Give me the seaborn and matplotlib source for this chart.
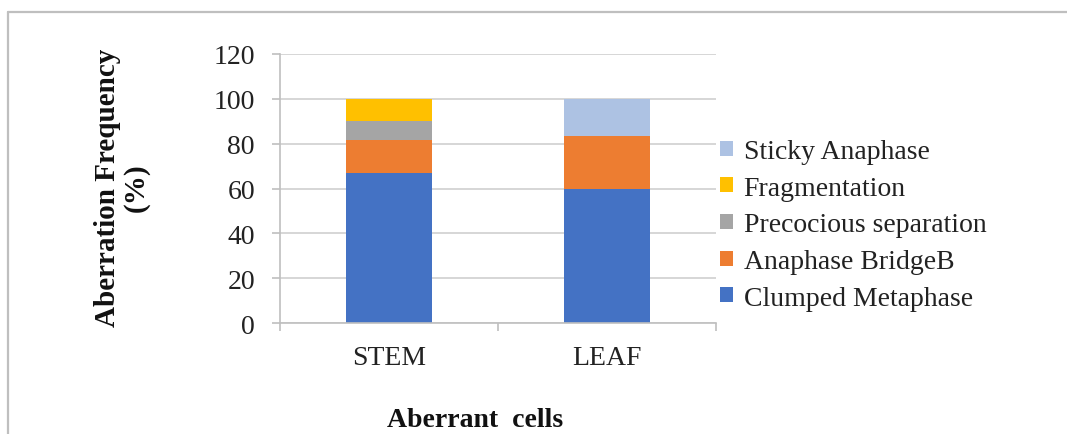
import numpy as np
import pandas as pd
import seaborn as sns
import matplotlib
matplotlib.use("Agg")
import matplotlib.pyplot as plt
from matplotlib.patches import Patch
from matplotlib.lines import Line2D
from matplotlib.font_manager import FontProperties

# Aberration frequencies (%) per tissue, one list per aberration type
categories = ["STEM", "LEAF"]
clumped_metaphase = [66.7, 60.0]
anaphase_bridge = [15.0, 23.3]
precocious_separation = [8.3, 0.0]
fragmentation = [10.0, 0.0]
sticky_anaphase = [0.0, 16.7]

series_names = ["Clumped Metaphase", "Anaphase BridgeB", "Precocious separation",
                "Fragmentation", "Sticky Anaphase"]
series_values = [clumped_metaphase, anaphase_bridge, precocious_separation,
                 fragmentation, sticky_anaphase]
colors = ["#4472C4", "#ED7D31", "#A5A5A5", "#FFC000", "#ADC2E3"]
y_ticks = [0, 20, 40, 60, 80, 100, 120]

sns.set_style("white")
plt.rcParams["font.family"] = ["Liberation Serif", "DejaVu Serif"]

# long-form table with cumulative tops for stacking
rows = []
for name, vals in zip(series_names, series_values):
    for cat, v in zip(categories, vals):
        rows.append({"tissue": cat, "type": name, "value": v})
df = pd.DataFrame(rows)
df["type"] = pd.Categorical(df["type"], categories=series_names, ordered=True)
df = df.sort_values(["tissue", "type"])
df["top"] = df.groupby("tissue")["value"].cumsum()

fig = plt.figure(figsize=(10.67, 4.35), dpi=100)
ax = fig.add_axes([280 / 1067, 1 - 324 / 435, 436 / 1067, 269 / 435])

# draw the stack from the highest layer down so each lower layer overlays
for name, color in reversed(list(zip(series_names, colors))):
    sub = df[df["type"] == name]
    sns.barplot(data=sub, x="tissue", y="top", order=categories, color=color,
                width=0.39, saturation=1, ax=ax, zorder=2, errorbar=None,
                linewidth=0, edgecolor="none")

ax.set_ylim(0, 120)
ax.set_xlim(-0.5, 1.5)
ax.set_yticks(y_ticks)
ax.set_yticklabels([str(t) for t in y_ticks])
ax.yaxis.grid(True, color="#D0D0D0", linewidth=1.2, zorder=0)
ax.set_axisbelow(True)

for side in ["top", "right"]:
    ax.spines[side].set_visible(False)
for side in ["left", "bottom"]:
    ax.spines[side].set_color("#BFBFBF")
    ax.spines[side].set_linewidth(1.2)

ax.tick_params(axis="y", left=True, length=6, width=1.2, color="#BFBFBF",
               labelsize=20, labelcolor="#222222", pad=12)
ax.tick_params(axis="x", which="major", length=0, labelsize=20,
               labelcolor="#222222", pad=16)
ax.set_xticks([-0.5, 0.5, 1.5], minor=True)
ax.tick_params(axis="x", which="minor", bottom=True, length=6, width=1.2,
               color="#BFBFBF")

ax.set_ylabel("Aberration Frequency\n(%)", fontsize=21, fontweight="bold",
              color="#111111", linespacing=1.05)
ax.yaxis.set_label_coords(-0.362, 0.505)
ax.yaxis.label.set_va("center")
ax.set_xlabel("Aberrant  cells", fontsize=20, fontweight="bold", color="#111111")
ax.xaxis.set_label_coords(0.447, -0.357)
ax.xaxis.label.set_va("center")

legend_font = FontProperties(family=["Liberation Serif", "DejaVu Serif"], size=20)
handles = [Patch(facecolor=c, edgecolor="none") for c in colors]
leg = fig.legend(list(reversed(handles)), list(reversed(series_names)),
                 loc="center left", bbox_to_anchor=(720 / 1067, 1 - 226 / 435),
                 frameon=False, prop=legend_font, handlelength=0.45,
                 handleheight=0.45, handletextpad=0.4, labelspacing=0.42,
                 borderpad=0, borderaxespad=0)
for t in leg.get_texts():
    t.set_color("#222222")

# outer frame lines
fig.add_artist(Line2D([8 / 1067, 1.0], [1 - 13 / 435, 1 - 13 / 435],
                      color="#BFBFBF", linewidth=1.6, transform=fig.transFigure))
fig.add_artist(Line2D([8 / 1067, 8 / 1067], [0.0, 1 - 13 / 435],
                      color="#BFBFBF", linewidth=1.6, transform=fig.transFigure))

fig.savefig("out.png", dpi=100, facecolor="white")
